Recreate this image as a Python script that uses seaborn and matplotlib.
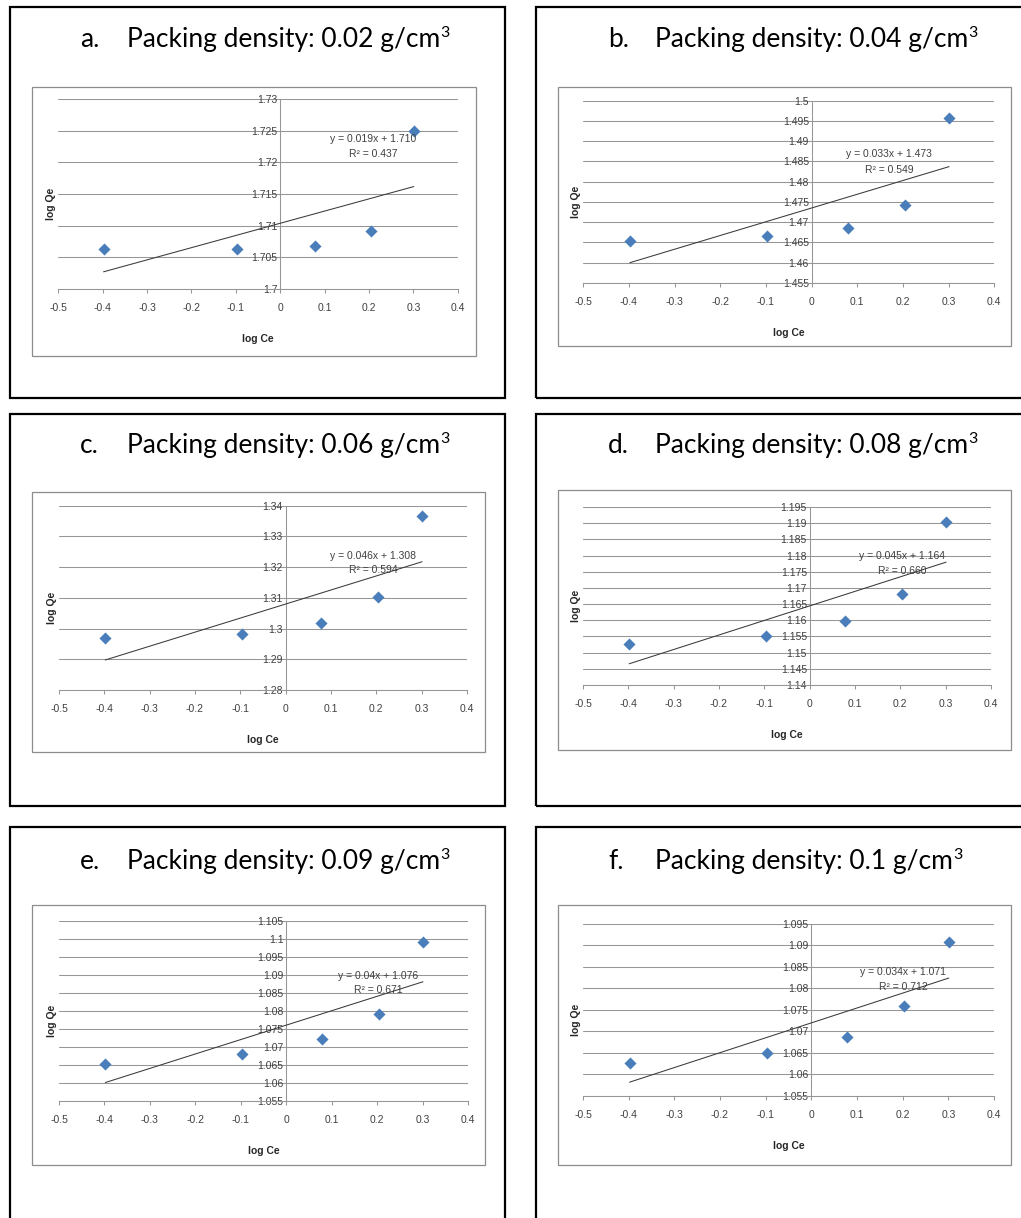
import matplotlib.pyplot as plt
import numpy as np
import pandas as pd
import seaborn as sns
from matplotlib.patches import Rectangle
from matplotlib.text import Annotation
from matplotlib.ticker import FixedLocator, FuncFormatter


sns.set_theme(style="white")
plt.rcParams["font.family"] = ["Liberation Sans Narrow", "Liberation Sans", "DejaVu Sans"]

W, H = 1021, 1218

# data
log_ce = [-0.398, -0.097, 0.079, 0.204, 0.301]
panel_letters = ["a.", "b.", "c.", "d.", "e.", "f."]
densities = ["0.02", "0.04", "0.06", "0.08", "0.09", "0.1"]
logqe_a = [1.7063, 1.7063, 1.7068, 1.7092, 1.7250]
logqe_b = [1.4654, 1.4665, 1.4686, 1.4743, 1.4958]
logqe_c = [1.2968, 1.2983, 1.3019, 1.3104, 1.3366]
logqe_d = [1.1528, 1.1551, 1.1597, 1.1681, 1.1905]
logqe_e = [1.0653, 1.0681, 1.0720, 1.0791, 1.0990]
logqe_f = [1.0626, 1.0649, 1.0687, 1.0759, 1.0908]
equations = ["y = 0.019x + 1.710", "y = 0.033x + 1.473", "y = 0.046x + 1.308",
             "y = 0.045x + 1.164", "y = 0.04x + 1.076", "y = 0.034x + 1.071"]
r_squared = ["0.437", "0.549", "0.594", "0.660", "0.671", "0.712"]
y_min = [1.700, 1.455, 1.28, 1.140, 1.055, 1.055]
y_max = [1.730, 1.500, 1.34, 1.195, 1.105, 1.095]
y_step = [0.005, 0.005, 0.01, 0.005, 0.005, 0.005]
x_ticks = [-0.5, -0.4, -0.3, -0.2, -0.1, 0, 0.1, 0.2, 0.3, 0.4]
all_qe = [logqe_a, logqe_b, logqe_c, logqe_d, logqe_e, logqe_f]

# layout in pixels (x0, y0, x1, y1), origin top-left
outer_boxes = [(10, 7, 505, 398), (536, 7, 1040, 398),
               (10, 414, 505, 806), (536, 414, 1040, 806),
               (10, 827, 505, 1240), (536, 827, 1040, 1240)]
inner_boxes = [(32, 87, 476, 356), (558, 87, 1011, 346),
               (32, 492, 485, 752), (558, 490, 1011, 750),
               (32, 905, 485, 1165), (558, 905, 1011, 1165)]
plot_areas = [(58.3, 99, 457.7, 289), (583.3, 100.7, 994.3, 283),
              (59, 505.7, 467, 690), (583, 507, 991, 685),
              (59, 920.7, 468, 1100.7), (583, 924, 994, 1095.7)]
title_base = [47, 47, 453, 453, 869, 869]
eq_pos = [(0.788, 0.79, 0.71), (0.744, 0.708, 0.62), (0.77, 0.729, 0.651),
          (0.782, 0.726, 0.64), (0.78, 0.693, 0.615), (0.779, 0.722, 0.633)]


def fx(px):
    return px / W


def fy(py):
    return 1 - py / H


def excel_fmt(v, pos=None):
    s = f"{v:.3f}".rstrip("0").rstrip(".")
    return "0" if s in ("-0", "") else s


fig = plt.figure(figsize=(W / 100, H / 100), dpi=100)
fig.patch.set_facecolor("white")

for i in range(6):
    x0, y0, x1, y1 = outer_boxes[i]
    fig.add_artist(Rectangle((fx(x0), fy(y1)), (x1 - x0) / W, (y1 - y0) / H,
                             transform=fig.transFigure, fill=False,
                             ec="black", lw=1.6))
    x0, y0, x1, y1 = inner_boxes[i]
    fig.add_artist(Rectangle((fx(x0), fy(y1)), (x1 - x0) / W, (y1 - y0) / H,
                             transform=fig.transFigure, fill=False,
                             ec="#8c8c8c", lw=0.9))

    left_col = i % 2 == 0
    tx = 80 if left_col else 608
    fig.text(fx(tx), fy(title_base[i]), panel_letters[i], fontsize=19,
             family="Lato", va="baseline", ha="left", color="black")
    t = fig.text(fx(tx + 47), fy(title_base[i]),
                 f"Packing density: {densities[i]} g/cm", fontsize=19,
                 family="Lato", va="baseline", ha="left", color="black")
    fig.add_artist(Annotation("3", xy=(1, 0), xycoords=t,
                              xytext=(0.3, 10.5), textcoords="offset points",
                              fontsize=11.5, family="Lato", va="baseline",
                              ha="left", color="black"))

    l, tp, r, b = plot_areas[i]
    ax = fig.add_axes([fx(l), fy(b), (r - l) / W, (b - tp) / H])
    ax.set_facecolor("none")

    df = pd.DataFrame({"log Ce": log_ce, "log Qe": all_qe[i]})
    ax.set_xlim(-0.5, 0.4)
    ax.set_ylim(y_min[i], y_max[i])
    yt = np.round(np.arange(y_min[i], y_max[i] + y_step[i] / 2, y_step[i]), 4)
    for v in yt:
        ax.axhline(v, color="#969696", lw=0.75, zorder=0)

    sns.regplot(data=df, x="log Ce", y="log Qe", ax=ax, scatter=False,
                ci=None, truncate=True,
                line_kws=dict(color="#3a3a3a", lw=0.75, zorder=2))
    sns.scatterplot(data=df, x="log Ce", y="log Qe", ax=ax, marker="D",
                    color="#4a7ebb", s=38, linewidth=0, zorder=3)

    ax.set_xlim(-0.5, 0.4)
    ax.set_ylim(y_min[i], y_max[i])
    ax.xaxis.set_major_locator(FixedLocator(x_ticks))
    ax.yaxis.set_major_locator(FixedLocator(yt))
    ax.xaxis.set_major_formatter(FuncFormatter(excel_fmt))
    ax.yaxis.set_major_formatter(FuncFormatter(excel_fmt))

    for side in ("top", "right"):
        ax.spines[side].set_visible(False)
    ax.spines["left"].set_position(("data", 0))
    ax.spines["left"].set_color("#969696")
    ax.spines["left"].set_linewidth(0.75)
    ax.spines["bottom"].set_color("#969696")
    ax.spines["bottom"].set_linewidth(0.75)
    ax.spines["left"].set_zorder(1)

    ax.tick_params(axis="x", bottom=True, length=3, width=0.75,
                   color="#969696", pad=7, labelsize=7.5, labelcolor="#404040")
    ax.tick_params(axis="y", left=False, length=0, pad=2,
                   labelsize=7.5, labelcolor="#404040")

    ax.set_xlabel("log Ce", fontsize=7.5, fontweight="bold", color="#262626")
    ax.set_ylabel("log Qe", fontsize=7.5, fontweight="bold", color="#262626")
    ax.xaxis.set_label_coords(0.5, -(45 / (b - tp)))
    ax.yaxis.set_label_coords(-(2.5 / (r - l)), 0.5 - 10 / (b - tp))

    ex, ey1, ey2 = eq_pos[i]
    ax.text(ex, ey1, equations[i], transform=ax.transAxes, ha="center",
            va="center", fontsize=7.5, color="#404040")
    ax.text(ex, ey2, f"R² = {r_squared[i]}", transform=ax.transAxes,
            ha="center", va="center", fontsize=7.5, color="#404040")

fig.savefig("out.png", dpi=100)
